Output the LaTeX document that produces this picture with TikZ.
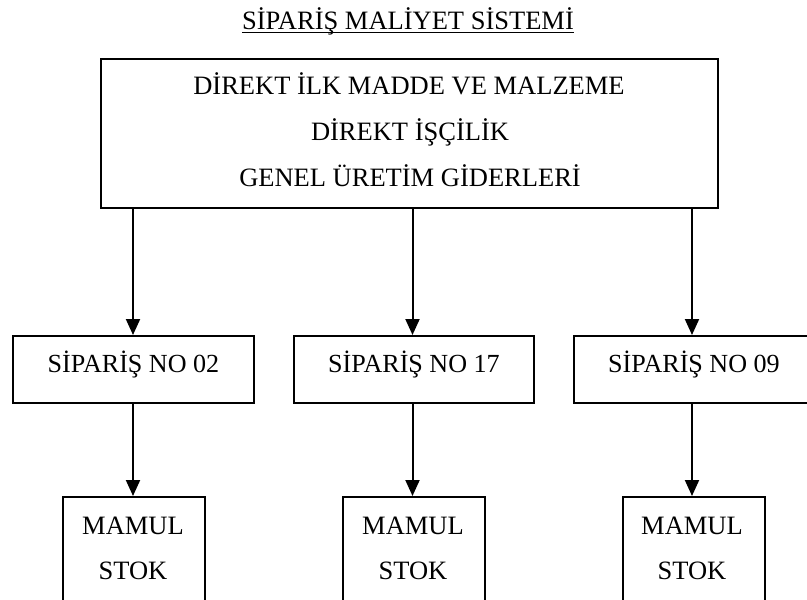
\documentclass[tikz,border=0pt]{standalone}
\usepackage{fontspec}
\setmainfont{Liberation Serif}
\usetikzlibrary{arrows.meta}
\begin{document}
\begin{tikzpicture}[x=1pt,y=-1pt,
  box/.style={draw,line width=2pt,rectangle,inner sep=0pt,minimum height=#1},
  lbl/.style={anchor=base,inner sep=0pt,font=\fontsize{26.5}{30}\selectfont},
  mlbl/.style={anchor=base,inner sep=0pt,font=\fontsize{26.1}{30}\selectfont},
  arr/.style={line width=2pt,-{Triangle[width=14pt,length=16pt]}}]
\useasboundingbox (0,0) rectangle (807,600);
\clip (0,0) rectangle (807,600);
% title
\node[lbl] (title) at (408,29) {SİPARİŞ MALİYET SİSTEMİ};
\draw[line width=1.4pt] ([yshift=-3.3pt]title.base west) -- ([yshift=-3.3pt]title.base east);
% top box
\node[box=149pt,minimum width=617pt] (top) at (409.5,133.5) {};
\node[lbl] (t1) at (409,94) {DİREKT İLK MADDE VE MALZEME};
\node[lbl] (t2) at (410,140.5) {DİREKT İŞÇİLİK};
\node[lbl] (t3) at (410,186) {GENEL ÜRETİM GİDERLERİ};
% middle boxes
\node[box=67pt,minimum width=241pt] (m1) at (133.5,369.5) {};
\node[box=67pt,minimum width=240pt] (m2) at (414,369.5) {};
\node[box=67pt,minimum width=241pt] (m3) at (694.5,369.5) {};
\node[mlbl] (m1t) at (133.5,372) {SİPARİŞ NO 02};
\node[mlbl] (m2t) at (414,372) {SİPARİŞ NO 17};
\node[mlbl] (m3t) at (694,372) {SİPARİŞ NO 09};
% bottom boxes
\node[box=150pt,minimum width=142pt] (b1) at (134,572) {};
\node[box=150pt,minimum width=142pt] (b2) at (414,572) {};
\node[box=150pt,minimum width=142pt] (b3) at (694,572) {};
\node[lbl] (b1a) at (133,534) {MAMUL};
\node[lbl] (b1b) at (133,579.5) {STOK};
\node[lbl] (b2a) at (413,534) {MAMUL};
\node[lbl] (b2b) at (413,579.5) {STOK};
\node[lbl] (b3a) at (692,534) {MAMUL};
\node[lbl] (b3b) at (692,579.5) {STOK};
% arrows
\coordinate (a1) at (133,0);
\coordinate (a2) at (412.5,0);
\coordinate (a3) at (692,0);
\draw[arr] (top.south -| a1) -- (m1.north -| a1);
\draw[arr] (top.south -| a2) -- (m2.north -| a2);
\draw[arr] (top.south -| a3) -- (m3.north -| a3);
\draw[arr] (m1.south -| a1) -- (b1.north -| a1);
\draw[arr] (m2.south -| a2) -- (b2.north -| a2);
\draw[arr] (m3.south -| a3) -- (b3.north -| a3);
\end{tikzpicture}
\end{document}
